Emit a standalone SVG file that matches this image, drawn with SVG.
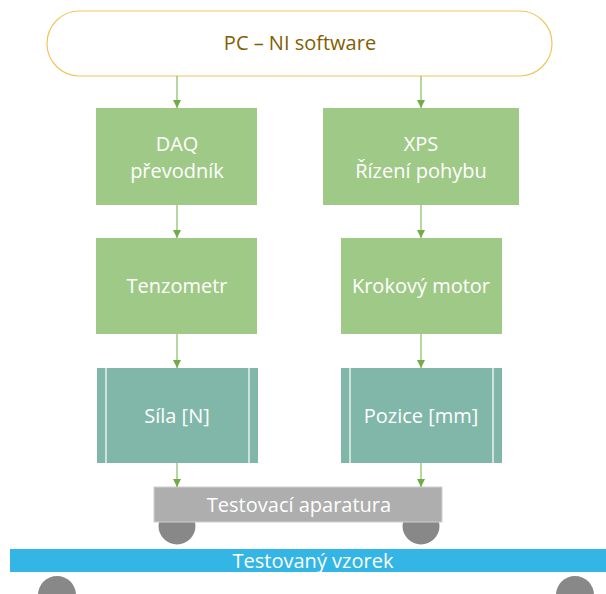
<svg xmlns="http://www.w3.org/2000/svg" width="606" height="594" viewBox="0 0 606 594">
<style>
.t{font-family:"Open Sans","Noto Sans",sans-serif;font-size:20px;text-anchor:middle;fill:#fff}
.g{fill:#9FC987}
.q{fill:#80B7A9}
.l{stroke:#E8F2EE;stroke-width:1.5}
.c{stroke:#70AD47;stroke-width:1;fill:none;marker-end:url(#a)}
.w{fill:#888}
</style>
<defs>
<marker id="a" viewBox="0 0 8 8" refX="8" refY="4" markerWidth="8" markerHeight="8" markerUnits="userSpaceOnUse" orient="auto">
<path d="M0,0L8,4L0,8z" fill="#70AD47"/>
</marker>
</defs>
<g id="wheels">
<circle class="w" cx="177" cy="526" r="18.5"/>
<circle class="w" cx="421" cy="526" r="18.5"/>
<circle class="w" cx="57" cy="595" r="19"/>
<circle class="w" cx="575" cy="595" r="19"/>
</g>
<g id="pc">
<rect x="47" y="11" width="505" height="65" rx="32.5" fill="#fff" stroke="#F2C55C" stroke-width="1.2"/>
<text class="t" x="300" y="50" style="fill:#7F6000">PC – NI software</text>
</g>
<g id="daq">
<rect class="g" x="96" y="108" width="161" height="97"/>
<text class="t" x="177" y="151">DAQ</text>
<text class="t" x="177" y="178">převodník</text>
</g>
<g id="xps">
<rect class="g" x="323" y="108" width="196" height="97"/>
<text class="t" x="421" y="151">XPS</text>
<text class="t" x="421" y="178">Řízení pohybu</text>
</g>
<g id="tenzometr">
<rect class="g" x="96" y="238" width="161" height="96"/>
<text class="t" x="177" y="293">Tenzometr</text>
</g>
<g id="motor">
<rect class="g" x="341" y="238" width="161" height="96"/>
<text class="t" x="421" y="293">Krokový motor</text>
</g>
<g id="sila">
<rect class="q" x="97" y="368" width="161" height="95"/>
<line class="l" x1="106" y1="368" x2="106" y2="463"/>
<line class="l" x1="249" y1="368" x2="249" y2="463"/>
<text class="t" x="177" y="423">Síla [N]</text>
</g>
<g id="pozice">
<rect class="q" x="341" y="368" width="161" height="95"/>
<line class="l" x1="350" y1="368" x2="350" y2="463"/>
<line class="l" x1="493" y1="368" x2="493" y2="463"/>
<text class="t" x="421" y="423">Pozice [mm]</text>
</g>
<g id="aparatura">
<rect x="154" y="487" width="288" height="35" fill="#AEAEAE" stroke="#D0D0D0" stroke-width="1"/>
<text class="t" x="299" y="512">Testovací aparatura</text>
</g>
<g id="vzorek">
<rect x="10" y="549" width="596" height="23" fill="#33B5E5"/>
<text class="t" x="313" y="568">Testovaný vzorek</text>
</g>
<g id="connectors">
<line class="c" x1="177" y1="76" x2="177" y2="108"/>
<line class="c" x1="421" y1="76" x2="421" y2="108"/>
<line class="c" x1="177" y1="205" x2="177" y2="238"/>
<line class="c" x1="421" y1="205" x2="421" y2="238"/>
<line class="c" x1="177" y1="334" x2="177" y2="368"/>
<line class="c" x1="421" y1="334" x2="421" y2="368"/>
<line class="c" x1="177" y1="463" x2="177" y2="487"/>
<line class="c" x1="421" y1="463" x2="421" y2="487"/>
</g>
</svg>
